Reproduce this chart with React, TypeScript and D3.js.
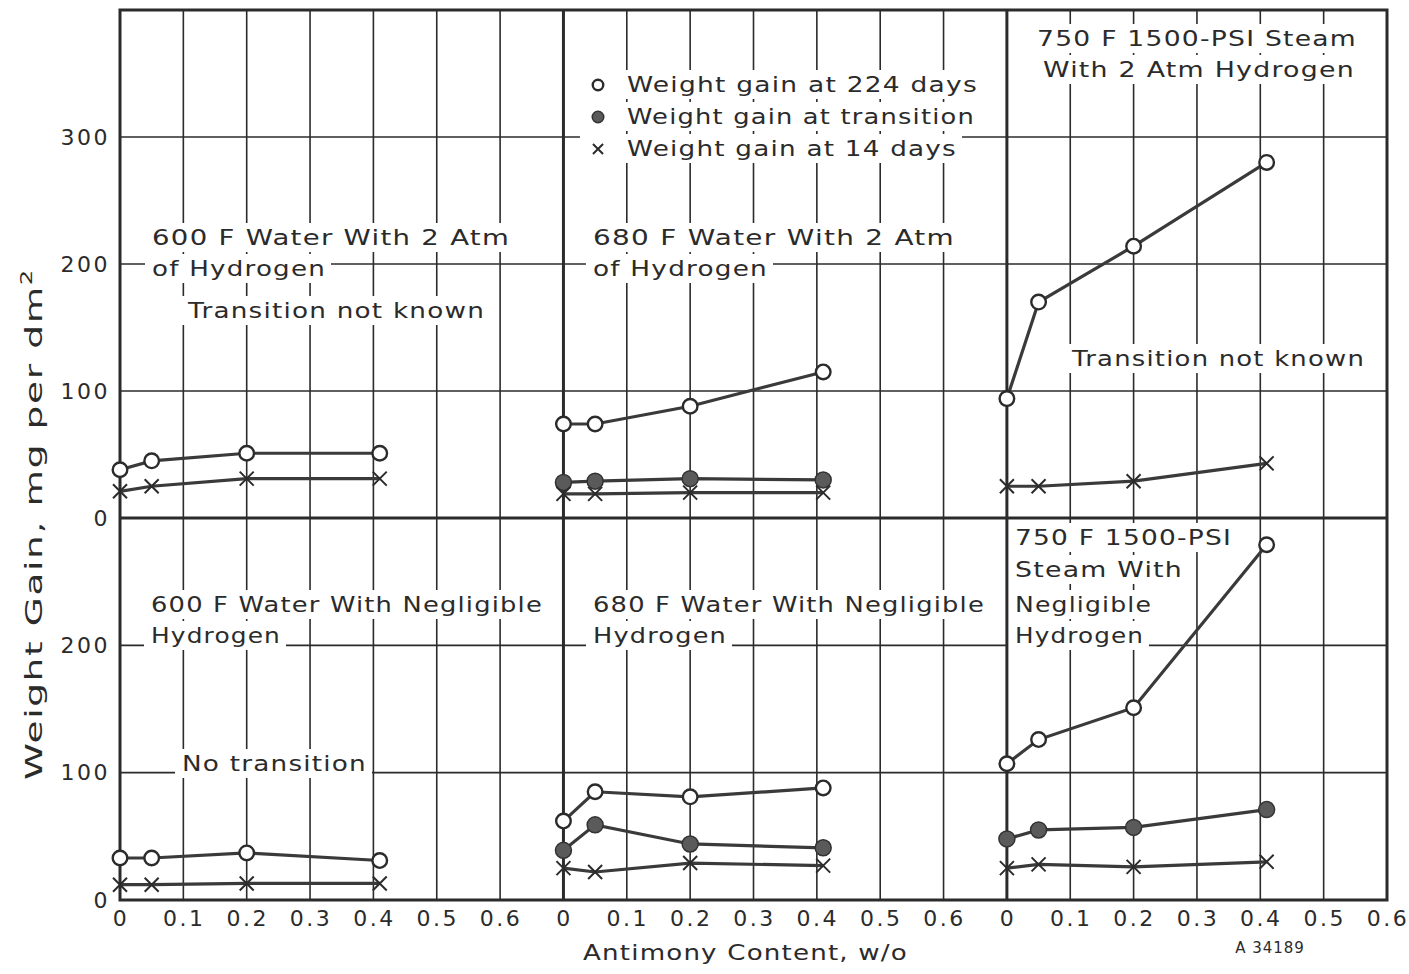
import React, { useEffect, useRef } from 'react';
import * as d3 from 'd3';

// antimony content, w/o (same four alloys in every panel)
const antimony = [0, 0.05, 0.2, 0.41];

// 2 atm hydrogen (top row)
const gain224_600H2 = [38, 45, 51, 51];
const gain14_600H2 = [21, 25, 31, 31];
const gain224_680H2 = [74, 74, 88, 115];
const gainTr_680H2 = [28, 29, 31, 30];
const gain14_680H2 = [19, 19, 20, 20];
const gain224_750H2 = [94, 170, 214, 280];
const gain14_750H2 = [25, 25, 29, 43];

// negligible hydrogen (bottom row)
const gain224_600 = [33, 33, 37, 31];
const gain14_600 = [12, 12, 13, 13];
const gain224_680 = [62, 85, 81, 88];
const gainTr_680 = [39, 59, 44, 41];
const gain14_680 = [25, 22, 29, 27];
const gain224_750 = [107, 126, 151, 279];
const gainTr_750 = [48, 55, 57, 71];
const gain14_750 = [25, 28, 26, 30];

const xTicks = [0, 0.1, 0.2, 0.3, 0.4, 0.5, 0.6];
const xTickLabels = ['0', '0.1', '0.2', '0.3', '0.4', '0.5', '0.6'];
const topTicks = [0, 100, 200, 300];
const bottomTicks = [0, 100, 200];

const legendItems = [
  { kind: 'open', label: 'Weight gain at 224 days' },
  { kind: 'filled', label: 'Weight gain at transition' },
  { kind: 'cross', label: 'Weight gain at 14 days' },
];

const App = () => {
  const ref = useRef<SVGSVGElement>(null);

  useEffect(() => {
    const svg = d3.select(ref.current);
    svg.selectAll('*').remove();

    const font = '"DejaVu Sans", sans-serif';
    const ink = '#2b2b2b';
    const x = d3.scaleLinear().domain([0, 2.0]).range([120, 1387]);
    const yTop = d3.scaleLinear().domain([0, 400]).range([518, 10]);
    const yBot = d3.scaleLinear().domain([0, 300]).range([900, 518]);
    const colStart = [0, 0.7, 1.4];
    const colEnd = [0.7, 1.4, 2.0];

    const panels = [
      { col: 0, y: yTop, series: [{ kind: 'open', v: gain224_600H2 }, { kind: 'cross', v: gain14_600H2 }] },
      { col: 1, y: yTop, series: [{ kind: 'open', v: gain224_680H2 }, { kind: 'filled', v: gainTr_680H2 }, { kind: 'cross', v: gain14_680H2 }] },
      { col: 2, y: yTop, series: [{ kind: 'open', v: gain224_750H2 }, { kind: 'cross', v: gain14_750H2 }] },
      { col: 0, y: yBot, series: [{ kind: 'open', v: gain224_600 }, { kind: 'cross', v: gain14_600 }] },
      { col: 1, y: yBot, series: [{ kind: 'open', v: gain224_680 }, { kind: 'filled', v: gainTr_680 }, { kind: 'cross', v: gain14_680 }] },
      { col: 2, y: yBot, series: [{ kind: 'open', v: gain224_750 }, { kind: 'filled', v: gainTr_750 }, { kind: 'cross', v: gain14_750 }] },
    ];

    const grid = svg.append('g').attr('stroke', ink).attr('stroke-width', 1.6);
    colStart.forEach((s, c) => {
      xTicks.filter(t => t > 0 && s + t < colEnd[c] - 1e-6).forEach(t => {
        grid.append('line').attr('x1', x(s + t)).attr('x2', x(s + t))
          .attr('y1', yTop(400)).attr('y2', yBot(0));
      });
    });
    topTicks.filter(t => t > 0).forEach(t => {
      grid.append('line').attr('x1', x(0)).attr('x2', x(2)).attr('y1', yTop(t)).attr('y2', yTop(t));
    });
    bottomTicks.filter(t => t > 0).forEach(t => {
      grid.append('line').attr('x1', x(0)).attr('x2', x(2)).attr('y1', yBot(t)).attr('y2', yBot(t));
    });

    const knock = svg.append('g');
    const labels = svg.append('g').attr('font-family', font).attr('fill', ink)
      .attr('font-size', 21.5).attr('letter-spacing', 1);

    // lettering on the panels; w = width of the hand lettering
    const notes = [
      { x: 152, y: 245, w: 358, t: '600 F Water With 2 Atm' },
      { x: 152, y: 276, w: 174, t: 'of Hydrogen' },
      { x: 188, y: 318, w: 297, t: 'Transition not known' },
      { x: 593, y: 245, w: 362, t: '680 F Water With 2 Atm' },
      { x: 593, y: 276, w: 175, t: 'of Hydrogen' },
      { x: 1037, y: 46, w: 320, t: '750 F 1500-PSI Steam' },
      { x: 1043, y: 77, w: 312, t: 'With 2 Atm Hydrogen' },
      { x: 1072, y: 366, w: 293, t: 'Transition not known' },
      { x: 151, y: 612, w: 392, t: '600 F Water With Negligible' },
      { x: 151, y: 643, w: 130, t: 'Hydrogen' },
      { x: 182, y: 771, w: 185, t: 'No transition' },
      { x: 593, y: 612, w: 392, t: '680 F Water With Negligible' },
      { x: 593, y: 643, w: 134, t: 'Hydrogen' },
      { x: 1015, y: 545, w: 217, t: '750 F 1500-PSI' },
      { x: 1015, y: 577, w: 168, t: 'Steam With' },
      { x: 1015, y: 612, w: 137, t: 'Negligible' },
      { x: 1015, y: 643, w: 129, t: 'Hydrogen' },
    ];
    notes.forEach(n => {
      labels.append('text').attr('x', n.x).attr('y', n.y)
        .attr('textLength', n.w).attr('lengthAdjust', 'spacingAndGlyphs').text(n.t);
    });

    // legend
    const legendW = [351, 348, 330];
    legendItems.forEach((d, i) => {
      labels.append('text').attr('x', 627).attr('y', 92 + i * 32)
        .attr('textLength', legendW[i]).attr('lengthAdjust', 'spacingAndGlyphs').text(d.label);
    });

    // white boxes behind the lettering
    labels.selectAll<SVGTextElement, unknown>('text').each(function () {
      const b = this.getBBox();
      knock.append('rect').attr('x', b.x - 7).attr('y', b.y - 2)
        .attr('width', b.width + 12).attr('height', b.height + 4).attr('fill', '#fff');
    });
    knock.append('rect').attr('x', 580).attr('y', 66).attr('width', 40).attr('height', 100).attr('fill', '#fff');

    // frame and panel dividers
    const frame = svg.append('g').attr('stroke', ink).attr('stroke-width', 3).attr('fill', 'none');
    frame.append('rect').attr('x', x(0)).attr('y', yTop(400)).attr('width', x(2) - x(0)).attr('height', yBot(0) - yTop(400));
    [0.7, 1.4].forEach(v => {
      frame.append('line').attr('x1', x(v)).attr('x2', x(v)).attr('y1', yTop(400)).attr('y2', yBot(0));
    });
    frame.append('line').attr('x1', x(0)).attr('x2', x(2)).attr('y1', yTop(0)).attr('y2', yTop(0));

    const marker = (g: any, kind: string, cx: number, cy: number, s: number) => {
      if (kind === 'open') {
        g.append('circle').attr('cx', cx).attr('cy', cy).attr('r', 7.3 * s)
          .attr('fill', '#fff').attr('stroke', ink).attr('stroke-width', 2.4);
      } else if (kind === 'filled') {
        g.append('circle').attr('cx', cx).attr('cy', cy).attr('r', 8 * s)
          .attr('fill', '#5a5a5a').attr('stroke', '#333').attr('stroke-width', 1.5);
      } else {
        const h = 7 * s;
        g.append('path').attr('d', `M${cx - h},${cy - h}L${cx + h},${cy + h}M${cx - h},${cy + h}L${cx + h},${cy - h}`)
          .attr('stroke', ink).attr('stroke-width', 2).attr('fill', 'none');
      }
    };

    const plot = svg.append('g');
    panels.forEach(p => {
      const off = colStart[p.col];
      const line = d3.line<number>()
        .x((_, i) => x(off + antimony[i]))
        .y(d => p.y(d));
      p.series.forEach(s => {
        plot.append('path').attr('d', line(s.v)).attr('fill', 'none')
          .attr('stroke', '#3a3a3a').attr('stroke-width', 3.2);
      });
      p.series.forEach(s => {
        s.v.forEach((d, i) => marker(plot, s.kind, x(off + antimony[i]), p.y(d), 1));
      });
    });

    legendItems.forEach((d, i) => marker(plot, d.kind, 598, 85 + i * 32, 0.72));

    // axis labels
    const axes = svg.append('g').attr('font-family', font).attr('fill', ink)
      .attr('font-size', 22).attr('letter-spacing', 2.5);
    topTicks.forEach(t => {
      axes.append('text').attr('x', 110).attr('y', yTop(t)).attr('dy', '0.35em')
        .attr('text-anchor', 'end').text(t);
    });
    bottomTicks.forEach(t => {
      axes.append('text').attr('x', 110).attr('y', yBot(t)).attr('dy', '0.35em')
        .attr('text-anchor', 'end').text(t);
    });
    colStart.forEach(s => {
      xTicks.forEach((t, i) => {
        axes.append('text').attr('x', x(s + t) + 1).attr('y', 926)
          .attr('text-anchor', 'middle').text(xTickLabels[i]);
      });
    });
    axes.append('text').attr('x', 583).attr('y', 960).attr('letter-spacing', 1)
      .attr('textLength', 325).attr('lengthAdjust', 'spacingAndGlyphs')
      .text('Antimony Content, w/o');
    const yt = axes.append('text').attr('transform', 'translate(42,780) rotate(-90)')
      .attr('font-size', 23).attr('letter-spacing', 1)
      .attr('textLength', 512).attr('lengthAdjust', 'spacingAndGlyphs');
    yt.append('tspan').text('Weight Gain, mg per dm');
    yt.append('tspan').attr('dy', -10).attr('font-size', 15).text('2');
    axes.append('text').attr('x', 1270).attr('y', 953).attr('text-anchor', 'middle')
      .attr('font-size', 15).attr('letter-spacing', 1).text('A 34189');
  }, []);

  return (
    <svg ref={ref} width={1409} height={974}
      style={{ position: 'absolute', left: 0, top: 0, background: '#fff' }} />
  );
};

export default App;
